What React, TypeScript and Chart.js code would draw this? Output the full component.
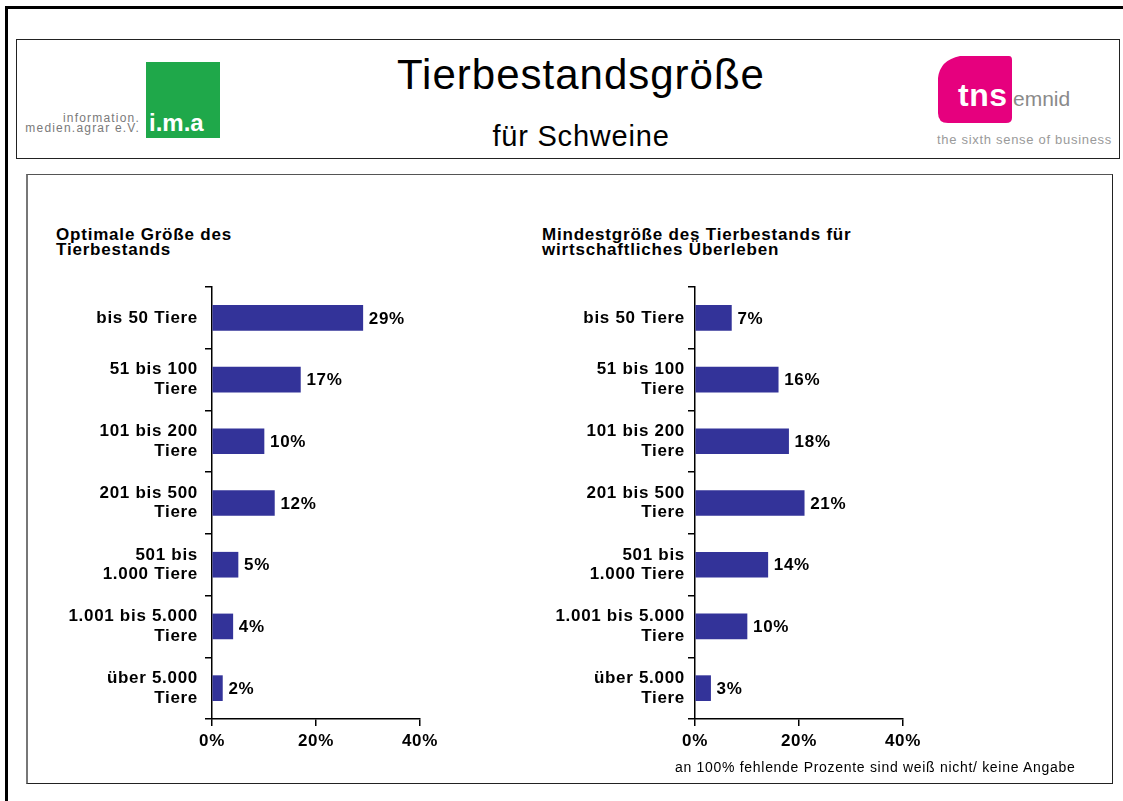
import React, { useEffect, useRef } from 'react';
import { Chart, registerables } from 'chart.js';

Chart.register(...registerables);

// ---- data ----
const categories: (string | string[])[] = [
  'bis 50 Tiere',
  ['51 bis 100', 'Tiere'],
  ['101 bis 200', 'Tiere'],
  ['201 bis 500', 'Tiere'],
  ['501 bis', '1.000 Tiere'],
  ['1.001 bis 5.000', 'Tiere'],
  ['über 5.000', 'Tiere'],
];
const optimalValues = [29, 17, 10, 12, 5, 4, 2];
const minimumValues = [7, 16, 18, 21, 14, 10, 3];
const xTickValues = [0, 20, 40];
const leftTitle = ['Optimale Größe des', 'Tierbestands'];
const rightTitle = ['Mindestgröße des Tierbestands für', 'wirtschaftliches Überleben'];
const mainTitle = 'Tierbestandsgröße';
const subTitle = 'für Schweine';
const footnote = 'an 100% fehlende Prozente sind weiß nicht/ keine Angabe';

const FONT = '"Liberation Sans", Arial, Helvetica, sans-serif';
const BAR_COLOR = '#333399';

function BarPanel({ values, labelPadding, left, top }: { values: number[]; labelPadding: number; left: number; top: number }) {
  const ref = useRef<HTMLCanvasElement>(null);
  useEffect(() => {
    const font = { family: FONT, size: 17, weight: 'bold' as const, lineHeight: 1.15 };
    const spacing = {
      id: 'spacing',
      beforeDraw(chart: any) {
        (chart.ctx as any).letterSpacing = '0.7px';
      },
    };
    const valueLabels = {
      id: 'valueLabels',
      afterDatasetsDraw(chart: any) {
        const ctx = chart.ctx;
        const meta = chart.getDatasetMeta(0);
        ctx.save();
        ctx.font = `bold 17px ${FONT}`;
        ctx.fillStyle = '#000';
        ctx.textAlign = 'left';
        ctx.textBaseline = 'middle';
        meta.data.forEach((bar: any, i: number) => {
          const v = chart.data.datasets[0].data[i];
          ctx.fillText(`${v}%`, bar.x + 6, bar.y + 1);
        });
        ctx.restore();
      },
    };
    const chart = new Chart(ref.current as HTMLCanvasElement, {
      type: 'bar',
      data: {
        labels: categories as any,
        datasets: [
          {
            data: values,
            backgroundColor: BAR_COLOR,
            borderWidth: 0,
            barThickness: 25,
          },
        ],
      },
      options: {
        indexAxis: 'y',
        responsive: false,
        animation: false,
        layout: { padding: { top: 17, right: 60, left: 0, bottom: 0 } },
        plugins: {
          legend: { display: false },
          tooltip: { enabled: false },
          title: { display: false },
        },
        scales: {
          x: {
            min: 0,
            max: 40,
            afterBuildTicks: (s: any) => {
              s.ticks = xTickValues.map((v) => ({ value: v }));
            },
            ticks: {
              callback: (v: any) => `${v}%`,
              color: '#000',
              font,
              padding: 6,
              maxRotation: 0,
            },
            grid: {
              drawOnChartArea: false,
              drawTicks: true,
              tickLength: 7,
              color: '#000',
              lineWidth: 1.5,
            },
            border: { display: true, color: '#000', width: 1.5 },
            afterFit: (s: any) => {
              s.height = 51;
              s.paddingLeft = 0;
              s.paddingRight = 0;
            },
          },
          y: {
            ticks: {
              color: '#000',
              font,
              padding: labelPadding,
              crossAlign: 'near',
              autoSkip: false,
            },
            grid: {
              offset: true,
              drawOnChartArea: false,
              drawTicks: true,
              tickLength: 7,
              color: '#000',
              lineWidth: 1.5,
            },
            border: { display: true, color: '#000', width: 1.5 },
            afterFit: (s: any) => {
              s.width = 172;
              s.paddingTop = 0;
              s.paddingBottom = 0;
            },
          },
        },
      } as any,
      plugins: [spacing, valueLabels],
    });
    return () => chart.destroy();
  }, []);
  return (
    <canvas
      ref={ref}
      width={440}
      height={500}
      style={{ position: 'absolute', left, top, width: 440, height: 500 }}
    />
  );
}

const abs = (o: React.CSSProperties): React.CSSProperties => ({ position: 'absolute', margin: 0, whiteSpace: 'nowrap', ...o });

export default function App() {
  return (
    <div
      style={{
        position: 'fixed',
        left: 0,
        top: 0,
        width: '100vw',
        height: '100vh',
        overflow: 'hidden',
        background: '#fff',
        fontFamily: FONT,
        color: '#000',
      }}
    >
      {/* outer frame */}
      <div style={abs({ left: 5, top: 6, width: 2000, height: 2000, border: '3px solid #000' })} />

      {/* header box */}
      <div style={abs({ left: 16, top: 39, width: 1104, height: 120, border: '1.5px solid #222', boxSizing: 'border-box' })} />

      {/* ima logo */}
      <div style={abs({ left: 18, top: 113, width: 122, fontSize: 12, lineHeight: '10px', color: '#7a7a7a', textAlign: 'right', letterSpacing: '1.2px' })}>
        information.
        <br />
        medien.agrar e.V.
      </div>
      <div style={abs({ left: 146, top: 62, width: 74, height: 76, background: '#1fa84a' })} />
      <div style={abs({ left: 149, top: 111, fontSize: 24, lineHeight: '24px', fontWeight: 'bold', color: '#fff' })}>i.m.a</div>

      {/* titles */}
      <div style={abs({ left: 0, width: 1162, top: 54, fontSize: 42, lineHeight: '42px', textAlign: 'center', letterSpacing: '1px' })}>{mainTitle}</div>
      <div style={abs({ left: 0, width: 1162, top: 122, fontSize: 29, lineHeight: '29px', textAlign: 'center', letterSpacing: '0.8px' })}>{subTitle}</div>

      {/* tns emnid logo */}
      <svg width={1123} height={200} style={{ position: 'absolute', left: 0, top: 0 }}>
        <path d="M938,78 Q940,60 960,56 L1009,56 Q1012,56 1012,60 L1012,118 Q1012,123 1006,123 L948,123 Q938,123 938,113 Z" fill="#e6007e" />
      </svg>
      <div style={abs({ left: 958, top: 79, fontSize: 32, lineHeight: '32px', fontWeight: 'bold', color: '#fff', letterSpacing: '0.5px' })}>tns</div>
      <div style={abs({ left: 1013, top: 88, fontSize: 21, lineHeight: '21px', color: '#8a8a8a' })}>emnid</div>
      <div style={abs({ left: 937, top: 133, fontSize: 13, lineHeight: '13px', color: '#9a9a9a', letterSpacing: '0.7px' })}>the sixth sense of business</div>

      {/* chart box */}
      <div
        style={abs({
          left: 26,
          top: 174,
          width: 1087,
          height: 610,
          boxSizing: 'border-box',
          borderTop: '1.5px solid #555',
          borderLeft: '2px solid #777',
          borderRight: '1.5px solid #222',
          borderBottom: '1.5px solid #222',
        })}
      />

      {/* chart titles */}
      <div style={abs({ left: 56, top: 227, fontSize: 17, lineHeight: '15px', fontWeight: 'bold', letterSpacing: '0.8px' })}>
        {leftTitle[0]}
        <br />
        {leftTitle[1]}
      </div>
      <div style={abs({ left: 542, top: 227, fontSize: 17, lineHeight: '15px', fontWeight: 'bold', letterSpacing: '0.8px' })}>
        {rightTitle[0]}
        <br />
        {rightTitle[1]}
      </div>

      <BarPanel values={optimalValues} labelPadding={7} left={40} top={270} />
      <BarPanel values={minimumValues} labelPadding={3} left={523} top={270} />

      <div style={abs({ left: 675, top: 760, fontSize: 14, lineHeight: '14px', letterSpacing: '0.7px' })}>{footnote}</div>
    </div>
  );
}
